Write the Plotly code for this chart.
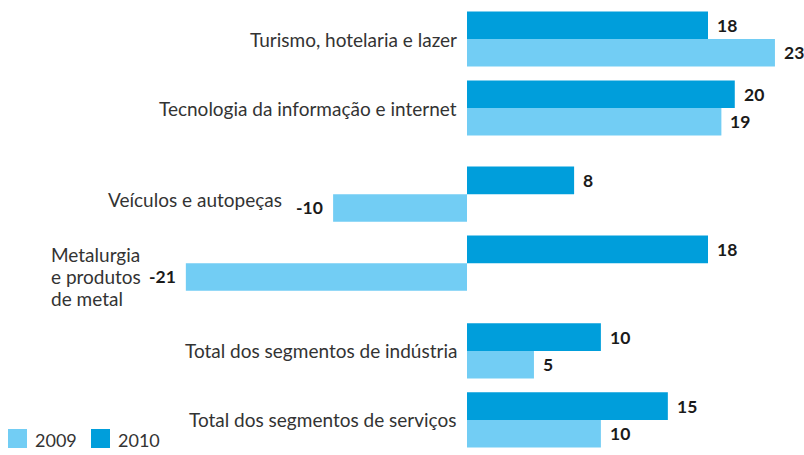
import plotly.graph_objects as go

categories = [
    "Turismo, hotelaria e lazer",
    "Tecnologia da informação e internet",
    "Veículos e autopeças",
    "Metalurgia<br>e produtos<br>de metal",
    "Total dos segmentos de indústria",
    "Total dos segmentos de serviços",
]
values_2009 = [23, 19, -10, -21, 5, 10]
values_2010 = [18, 20, 8, 18, 10, 15]
series_names = ["2009", "2010"]

COL_2009 = "#72CDF4"
COL_2010 = "#009EDB"
FONT = "Lato"
W, H = 804, 455

# vertical layout of the groups (units = one bar thickness)
steps = [2.5, 3.12, 2.5, 3.18, 2.5]
centers = [0.0]
for s in steps:
    centers.append(centers[-1] + s)

y2010 = [c - 0.5 for c in centers]
y2009 = [c + 0.5 for c in centers]

fig = go.Figure()
fig.add_trace(go.Bar(x=values_2010, y=y2010, orientation="h", width=1.0,
                     name=series_names[1],
                     marker=dict(color=COL_2010, line=dict(width=0)),
                     showlegend=False, hoverinfo="name+x"))
fig.add_trace(go.Bar(x=values_2009, y=y2009, orientation="h", width=1.0,
                     name=series_names[0],
                     marker=dict(color=COL_2009, line=dict(width=0)),
                     showlegend=False, hoverinfo="name+x"))

annotations = []
# value labels
for vals, ys in ((values_2010, y2010), (values_2009, y2009)):
    for v, y in zip(vals, ys):
        annotations.append(dict(
            x=v, y=y, xref="x", yref="y", text=f"<b>{v}</b>", showarrow=False,
            xanchor="left" if v >= 0 else "right", yanchor="middle",
            xshift=7 if v >= 0 else -8,
            font=dict(family=FONT, size=17.5, color="#1a1a1a")))

# category labels
for i, cat in enumerate(categories):
    mn = min(values_2009[i], values_2010[i], 0)
    if "<br>" in cat:
        lines = cat.split("<br>")
        n = len(lines)
        for k, line in enumerate(lines):
            annotations.append(dict(
                x=49 / W, y=y2009[i], xref="paper", yref="y", text=line,
                showarrow=False, xanchor="left", yanchor="middle", align="left",
                yshift=-(k - (n - 1) / 2) * 22,
                font=dict(family=FONT, size=19, color="#333333")))
    elif mn < 0:
        annotations.append(dict(
            x=mn, y=centers[i] + 0.2, xref="x", yref="y", text=cat,
            showarrow=False, xanchor="right", yanchor="middle", xshift=-49,
            font=dict(family=FONT, size=19, color="#333333")))
    else:
        annotations.append(dict(
            x=0, y=centers[i], xref="x", yref="y", text=cat,
            showarrow=False, xanchor="right", yanchor="middle", xshift=-8,
            font=dict(family=FONT, size=19, color="#333333")))

# legend (swatches + labels) at bottom left
shapes = []
for j, (name, col) in enumerate(zip(series_names, [COL_2009, COL_2010])):
    x0 = 8 + j * 83
    shapes.append(dict(type="rect", xref="paper", yref="paper",
                       x0=x0 / W, x1=(x0 + 19) / W,
                       y0=(H - 448) / H, y1=(H - 429) / H,
                       fillcolor=col, line=dict(width=0)))
    annotations.append(dict(
        x=(x0 + 25) / W, y=(H - 440) / H, xref="paper", yref="paper",
        text=name, showarrow=False, xanchor="left", yanchor="middle",
        font=dict(family=FONT, size=18, color="#333333")))

fig.update_layout(
    width=W, height=H,
    margin=dict(l=0, r=0, t=0, b=0),
    paper_bgcolor="white", plot_bgcolor="white",
    barmode="overlay",
    xaxis=dict(range=[-34.88, 25.17], visible=False, fixedrange=True),
    yaxis=dict(range=[15.07, -1.413], visible=False, fixedrange=True),
    annotations=annotations,
    shapes=shapes,
    showlegend=False,
)

fig.write_html("out.html", config={"displayModeBar": False},
               post_script="document.body.style.margin='0';")
